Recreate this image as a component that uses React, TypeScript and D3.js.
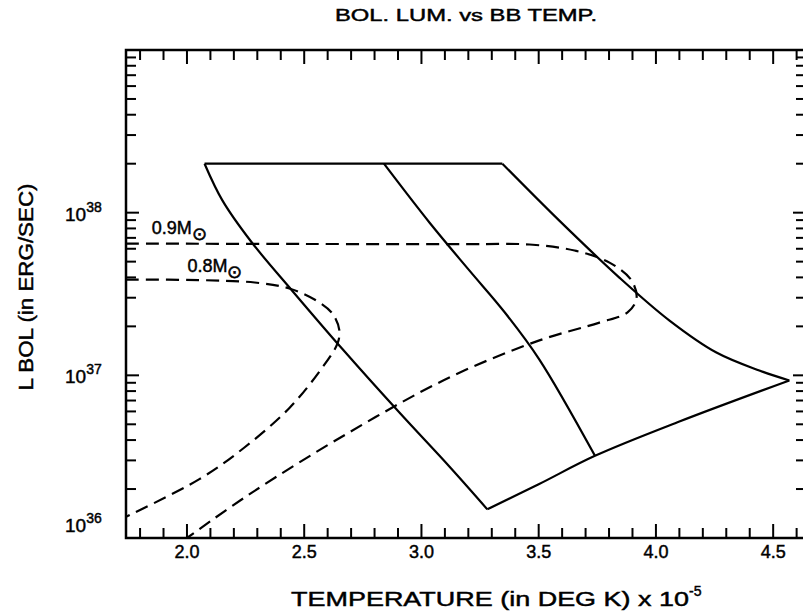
import React from 'react';
import * as d3 from 'd3';

const W = 803;
const H = 613;

// Axis tick values / labels
const xMajorTicks = [2.0, 2.5, 3.0, 3.5, 4.0, 4.5];
const xTickLabels = ['2.0', '2.5', '3.0', '3.5', '4.0', '4.5'];
const xMinorStart = 1.8;
const xMinorEnd = 4.6;
const yDecadeExps = [36, 37, 38];
const yTickLabelExps = ['36', '37', '38'];

const titleText = 'BOL. LUM. vs BB TEMP.';
const xTitleText = 'TEMPERATURE (in DEG K) x 10';
const xTitleSup = '-5';
const yTitleText = 'L BOL (in ERG/SEC)';

// Solid grid: [T (1e5 K), L (erg/s)]
const topEdge: [number, number][] = [[2.075, 2e38], [3.345, 2e38]];
const leftEdge: [number, number][] = [
  [2.075, 2e38], [2.151, 1.19e38], [2.275, 6.6e37], [2.446, 3.35e37],
  [2.663, 1.45e37], [2.906, 5.9e36], [3.119, 2.75e36], [3.281, 1.5e36],
];
const middleLine: [number, number][] = [
  [2.84, 2e38], [3.034, 8.7e37], [3.205, 4.4e37], [3.354, 2.45e37],
  [3.503, 1.25e37], [3.74, 3.2e36],
];
const rightEdge: [number, number][] = [
  [3.345, 2e38], [3.588, 8.93e37], [3.844, 3.99e37], [4.058, 2.17e37],
  [4.258, 1.38e37], [4.441, 1.07e37], [4.569, 9.3e36],
];
const bottomEdge: [number, number][] = [
  [3.281, 1.5e36], [3.5, 2.14e36], [3.74, 3.2e36], [4.10, 5.2e36], [4.569, 9.3e36],
];

// Dashed tracks
const track08: [number, number][] = [
  [1.74, 3.88e37], [2.05, 3.85e37], [2.289, 3.72e37], [2.437, 3.42e37],
  [2.552, 2.88e37], [2.620, 2.4e37], [2.650, 1.89e37], [2.642, 1.57e37],
  [2.574, 1.10e37], [2.437, 6.3e36], [2.245, 3.6e36], [2.053, 2.3e36],
  [1.74, 1.35e36],
];
const track09: [number, number][] = [
  [1.74, 6.46e37], [2.5, 6.42e37], [3.2, 6.4e37], [3.461, 6.37e37],
  [3.653, 5.85e37], [3.802, 4.93e37], [3.896, 3.83e37], [3.917, 2.96e37],
  [3.879, 2.44e37], [3.759, 2.11e37], [3.503, 1.64e37], [3.119, 9.7e36],
  [2.693, 4.47e36], [2.267, 1.86e36], [2.0, 1.0e36],
];

const trackLabels = [
  { main: '0.9M', t: 1.85, l: 7.43e37 },
  { main: '0.8M', t: 2.002, l: 4.29e37 },
];

export default function App() {
  const left = 126, right = 806, top = 50, bottom = 538;
  const x = d3.scaleLinear().domain([1.74, 4.64]).range([left, right]);
  const y = d3.scaleLog().domain([1e36, 1e39]).range([bottom, top]);

  const lineStraight = d3.line<[number, number]>().x(d => x(d[0])).y(d => y(d[1]));
  const lineCurve = d3.line<[number, number]>()
    .x(d => x(d[0])).y(d => y(d[1])).curve(d3.curveCatmullRom.alpha(0.5));

  const xMinor: number[] = d3.range(Math.round(xMinorStart * 10), Math.round(xMinorEnd * 10) + 1).map(v => v / 10);
  const yTicks: { v: number; major: boolean }[] = [];
  yDecadeExps.forEach(e => {
    for (let k = 1; k <= 9; k++) yTicks.push({ v: k * Math.pow(10, e), major: k === 1 });
  });

  const font = "'Liberation Sans', Arial, Helvetica, sans-serif";
  const sw = 2.2;
  const txt = { fill: '#000', stroke: '#000', strokeWidth: 0.45 };

  return (
    <svg width={W} height={H} style={{ position: 'absolute', left: 0, top: 0, background: '#fff' }}
      fontFamily={font}>
      <rect x={0} y={0} width={W} height={H} fill="#fff" />
      {/* title */}
      <text x={335} y={21} fontSize={17} textLength={262} lengthAdjust="spacingAndGlyphs" {...txt}>{titleText}</text>

      {/* frame */}
      <rect x={left} y={top} width={right - left} height={bottom - top} fill="none" stroke="#000" strokeWidth={2.5} />

      {/* x ticks */}
      {xMinor.map((v, i) => {
        const major = Math.abs(v * 2 - Math.round(v * 2)) < 1e-6;
        const len = major ? 14 : 10;
        return (
          <g key={'xt' + i}>
            <line x1={x(v)} x2={x(v)} y1={bottom} y2={bottom - len} stroke="#000" strokeWidth={2} />
            <line x1={x(v)} x2={x(v)} y1={top} y2={top + len} stroke="#000" strokeWidth={2} />
          </g>
        );
      })}
      {/* y ticks */}
      {yTicks.map((t, i) => {
        const len = t.major ? 13 : 10;
        return (
          <g key={'yt' + i}>
            <line x1={left} x2={left + len} y1={y(t.v)} y2={y(t.v)} stroke="#000" strokeWidth={2} />
            <line x1={right} x2={right - len} y1={y(t.v)} y2={y(t.v)} stroke="#000" strokeWidth={2} />
          </g>
        );
      })}

      {/* x tick labels */}
      {xMajorTicks.map((v, i) => (
        <text key={'xl' + i} x={x(v)} y={558} fontSize={18} textAnchor="middle" {...txt}>{xTickLabels[i]}</text>
      ))}
      {/* y tick labels */}
      {yDecadeExps.map((e, i) => {
        const yy = e === 36 ? y(Math.pow(10, e)) - 6 : y(Math.pow(10, e)) + 8;
        return (
          <text key={'yl' + i} x={65} y={yy} fontSize={19} {...txt}>
            10<tspan dy={-9} fontSize={14}>{yTickLabelExps[i]}</tspan>
          </text>
        );
      })}

      {/* axis titles */}
      <text x={291} y={606} fontSize={20} {...txt}>
        <tspan textLength={398} lengthAdjust="spacingAndGlyphs">{xTitleText}</tspan>
        <tspan dy={-10} fontSize={14}>{xTitleSup}</tspan>
      </text>
      <text transform={`translate(33,287) rotate(-90)`} fontSize={20} textAnchor="middle"
        textLength={207} lengthAdjust="spacingAndGlyphs" {...txt}>{yTitleText}</text>

      {/* solid grid */}
      <g fill="none" stroke="#000" strokeWidth={sw} strokeLinejoin="round">
        <path d={lineStraight(topEdge) || ''} />
        <path d={lineCurve(leftEdge) || ''} />
        <path d={lineCurve(middleLine) || ''} />
        <path d={lineCurve(rightEdge) || ''} />
        <path d={lineCurve(bottomEdge) || ''} />
      </g>
      {/* dashed tracks */}
      <g fill="none" stroke="#000" strokeWidth={sw} strokeDasharray="13 7">
        <path d={lineCurve(track08) || ''} />
        <path d={lineCurve(track09) || ''} />
      </g>
      {trackLabels.map((lb, i) => (
        <text key={'tl' + i} x={x(lb.t)} y={y(lb.l)} fontSize={18} {...txt}>
          {lb.main}<tspan dy={6} fontSize={18} strokeWidth={0.6}>⊙</tspan>
        </text>
      ))}
    </svg>
  );
}
